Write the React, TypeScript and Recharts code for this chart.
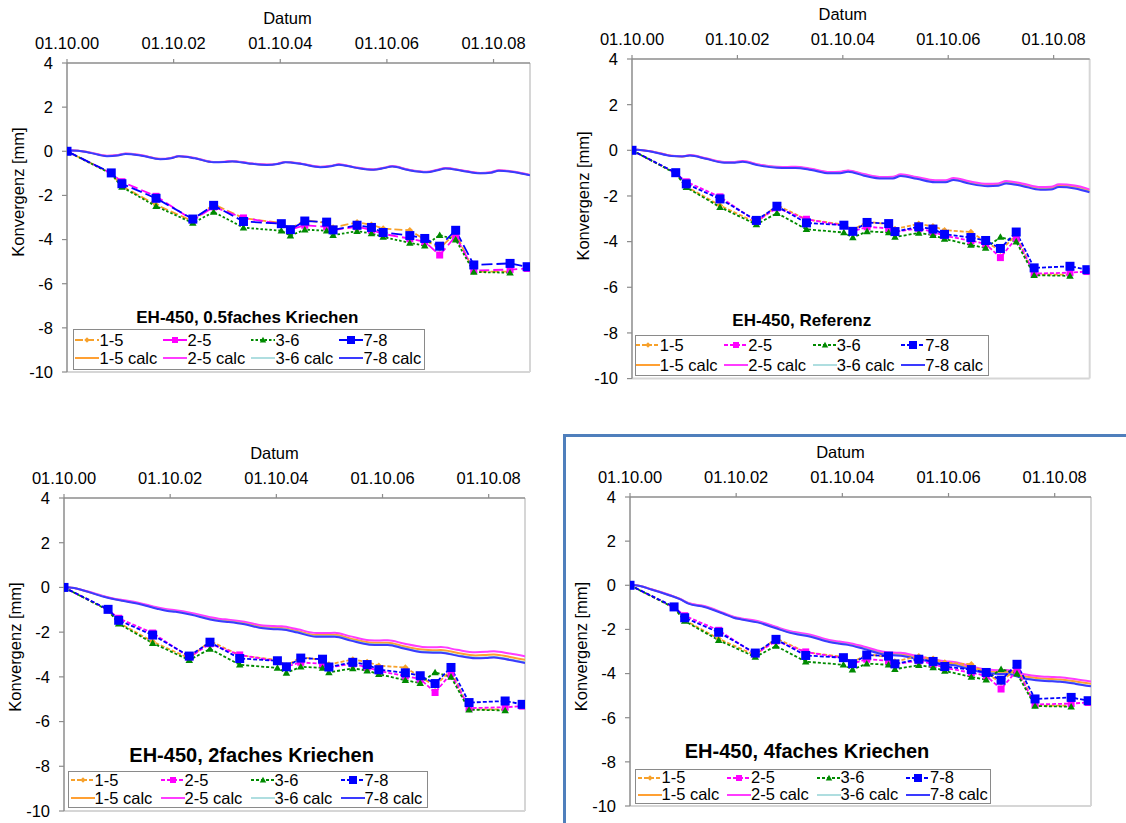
import React from 'react';
import { LineChart, Line, XAxis, YAxis, Legend, Label, ReferenceLine } from 'recharts';

const FONT = '"Liberation Sans", Arial, Helvetica, sans-serif';

// ---- axes ----
const X_TICKS = [0, 2, 4, 6, 8];
const X_TICK_LABELS = ['01.10.00', '01.10.02', '01.10.04', '01.10.06', '01.10.08'];
const Y_TICKS = [-10, -8, -6, -4, -2, 0, 2, 4];
const X_MAX = 8.684;

// ---- measured convergence (years since 01.10.2000) ----
const MEAS_T = [0, 0.83, 1.03, 1.67, 2.36, 2.75, 3.31, 4.02, 4.19, 4.46, 4.87, 4.99, 5.44, 5.71, 5.93, 6.43, 6.71, 6.99, 7.29, 7.63, 8.31, 8.63];
const M_15 = [0, -1.0, -1.58, -2.42, -3.17, -2.4, -3.03, -3.25, -3.5, -3.12, -3.25, -3.45, -3.22, -3.33, -3.5, -3.58, -4.0, -4.4, -3.7, -5.45, -5.45, null];
const M_25 = [0, -1.0, -1.38, -2.04, -3.12, -2.52, -3.02, -3.3, -3.55, -3.35, -3.42, -3.57, -3.42, -3.57, -3.74, -3.96, -4.1, -4.7, -3.85, -5.4, -5.36, -5.31];
const M_36 = [0, -1.02, -1.62, -2.49, -3.25, -2.75, -3.46, -3.6, -3.82, -3.55, -3.6, -3.8, -3.62, -3.72, -3.88, -4.15, -4.28, -3.8, -4.0, -5.47, -5.5, null];
const M_78 = [0, -0.98, -1.47, -2.13, -3.07, -2.45, -3.18, -3.28, -3.55, -3.16, -3.21, -3.56, -3.35, -3.45, -3.68, -3.82, -3.95, -4.3, -3.58, -5.15, -5.08, -5.23];

// ---- calculated curves ----
const CALC_T = [0, 0.1, 0.4, 0.75, 0.95, 1.1, 1.4, 1.75, 1.95, 2.1, 2.4, 2.75, 2.95, 3.1, 3.4, 3.75, 3.95, 4.1, 4.4, 4.75, 4.95, 5.1, 5.4, 5.75, 5.95, 6.1, 6.4, 6.75, 6.95, 7.1, 7.4, 7.75, 7.95, 8.1, 8.4, 8.684];

// 0.5faches Kriechen
const TL_15 = [0, 0.04, -0.04, -0.21, -0.18, -0.11, -0.19, -0.35, -0.31, -0.22, -0.31, -0.49, -0.48, -0.45, -0.54, -0.61, -0.57, -0.49, -0.57, -0.71, -0.67, -0.6, -0.73, -0.83, -0.75, -0.68, -0.84, -0.94, -0.85, -0.77, -0.87, -0.99, -0.96, -0.87, -0.94, -1.08];
const TL_25 = [0, 0.04, -0.04, -0.2, -0.17, -0.1, -0.18, -0.34, -0.3, -0.21, -0.3, -0.48, -0.47, -0.44, -0.53, -0.6, -0.56, -0.48, -0.56, -0.7, -0.66, -0.59, -0.72, -0.82, -0.74, -0.67, -0.83, -0.93, -0.84, -0.76, -0.86, -0.98, -0.95, -0.86, -0.93, -1.07];
const TL_36 = [0, 0.03, -0.05, -0.21, -0.18, -0.11, -0.19, -0.35, -0.31, -0.22, -0.31, -0.49, -0.48, -0.45, -0.54, -0.61, -0.57, -0.49, -0.57, -0.71, -0.67, -0.6, -0.73, -0.83, -0.75, -0.68, -0.84, -0.94, -0.85, -0.77, -0.87, -0.99, -0.96, -0.87, -0.94, -1.08];
const TL_78 = [0, 0.03, -0.05, -0.22, -0.19, -0.12, -0.2, -0.36, -0.32, -0.23, -0.32, -0.5, -0.49, -0.46, -0.55, -0.62, -0.58, -0.5, -0.58, -0.72, -0.68, -0.61, -0.74, -0.84, -0.76, -0.69, -0.85, -0.95, -0.86, -0.78, -0.88, -1.0, -0.97, -0.88, -0.95, -1.09];

// Referenz
const TR_15 = [0, 0.03, -0.06, -0.24, -0.27, -0.22, -0.36, -0.52, -0.52, -0.48, -0.63, -0.74, -0.75, -0.74, -0.83, -0.97, -0.96, -0.9, -1.07, -1.2, -1.19, -1.08, -1.2, -1.34, -1.35, -1.25, -1.4, -1.51, -1.49, -1.38, -1.49, -1.66, -1.65, -1.54, -1.59, -1.76];
const TR_25 = [0, 0.03, -0.06, -0.24, -0.26, -0.21, -0.35, -0.51, -0.51, -0.47, -0.62, -0.72, -0.73, -0.72, -0.81, -0.95, -0.94, -0.88, -1.04, -1.17, -1.16, -1.05, -1.17, -1.31, -1.31, -1.21, -1.36, -1.47, -1.45, -1.34, -1.45, -1.61, -1.6, -1.49, -1.54, -1.71];
const TR_36 = [0, 0.03, -0.07, -0.25, -0.27, -0.22, -0.37, -0.53, -0.53, -0.5, -0.65, -0.75, -0.77, -0.76, -0.85, -1.0, -0.99, -0.93, -1.09, -1.23, -1.22, -1.11, -1.23, -1.38, -1.38, -1.28, -1.44, -1.55, -1.53, -1.43, -1.54, -1.7, -1.7, -1.59, -1.64, -1.81];
const TR_78 = [0, 0.03, -0.07, -0.25, -0.27, -0.23, -0.37, -0.54, -0.54, -0.5, -0.66, -0.76, -0.77, -0.77, -0.86, -1.01, -1.0, -0.94, -1.11, -1.24, -1.23, -1.13, -1.25, -1.4, -1.4, -1.3, -1.46, -1.57, -1.55, -1.45, -1.56, -1.73, -1.72, -1.61, -1.67, -1.84];

// 2faches Kriechen
const BL_15 = [0, 0, -0.16, -0.4, -0.52, -0.58, -0.71, -0.92, -1.02, -1.06, -1.18, -1.38, -1.46, -1.5, -1.59, -1.77, -1.8, -1.81, -1.95, -2.13, -2.13, -2.12, -2.29, -2.46, -2.48, -2.47, -2.63, -2.78, -2.81, -2.8, -2.92, -3.04, -3.02, -3.0, -3.11, -3.24];
const BL_25 = [0, 0, -0.15, -0.39, -0.5, -0.56, -0.68, -0.89, -0.98, -1.02, -1.14, -1.33, -1.41, -1.44, -1.53, -1.7, -1.73, -1.74, -1.87, -2.04, -2.04, -2.03, -2.19, -2.36, -2.37, -2.36, -2.51, -2.66, -2.68, -2.67, -2.79, -2.9, -2.88, -2.85, -2.96, -3.08];
const BL_36 = [0, 0, -0.16, -0.41, -0.53, -0.59, -0.72, -0.93, -1.03, -1.07, -1.2, -1.4, -1.48, -1.52, -1.62, -1.8, -1.83, -1.84, -1.98, -2.17, -2.17, -2.17, -2.34, -2.52, -2.54, -2.53, -2.69, -2.86, -2.88, -2.88, -3.01, -3.13, -3.12, -3.09, -3.21, -3.34];
const BL_78 = [0, 0, -0.16, -0.42, -0.53, -0.6, -0.73, -0.95, -1.05, -1.09, -1.22, -1.43, -1.51, -1.55, -1.65, -1.83, -1.87, -1.88, -2.02, -2.21, -2.21, -2.21, -2.38, -2.56, -2.58, -2.57, -2.73, -2.9, -2.92, -2.92, -3.05, -3.17, -3.16, -3.13, -3.25, -3.38];

// 4faches Kriechen
const BR_15 = [0, 0, -0.18, -0.45, -0.63, -0.81, -0.96, -1.26, -1.44, -1.53, -1.65, -1.91, -2.08, -2.16, -2.28, -2.52, -2.6, -2.65, -2.82, -3.06, -3.11, -3.12, -3.26, -3.44, -3.51, -3.54, -3.73, -3.91, -3.93, -3.93, -4.11, -4.22, -4.25, -4.27, -4.36, -4.46];
const BR_25 = [0, 0, -0.18, -0.44, -0.62, -0.8, -0.94, -1.24, -1.42, -1.5, -1.62, -1.88, -2.04, -2.12, -2.24, -2.48, -2.55, -2.6, -2.77, -3.0, -3.05, -3.06, -3.2, -3.37, -3.44, -3.47, -3.65, -3.83, -3.85, -3.84, -4.02, -4.13, -4.15, -4.17, -4.26, -4.36];
const BR_36 = [0, 0, -0.19, -0.45, -0.63, -0.82, -0.97, -1.27, -1.45, -1.53, -1.66, -1.93, -2.09, -2.17, -2.3, -2.54, -2.62, -2.67, -2.85, -3.09, -3.14, -3.16, -3.31, -3.48, -3.56, -3.59, -3.78, -3.97, -3.99, -3.99, -4.18, -4.29, -4.32, -4.34, -4.44, -4.55];
const BR_78 = [0, 0, -0.19, -0.46, -0.64, -0.83, -0.98, -1.28, -1.47, -1.55, -1.68, -1.95, -2.11, -2.2, -2.33, -2.57, -2.65, -2.7, -2.88, -3.12, -3.17, -3.19, -3.34, -3.51, -3.59, -3.62, -3.81, -4.0, -4.02, -4.02, -4.21, -4.32, -4.35, -4.37, -4.47, -4.58];

const MEAS_NAMES = ['1-5', '2-5', '3-6', '7-8'];
const CALC_NAMES = ['1-5 calc', '2-5 calc', '3-6 calc', '7-8 calc'];
const TITLES = ['EH-450, 0.5faches Kriechen', 'EH-450, Referenz', 'EH-450, 2faches Kriechen', 'EH-450, 4faches Kriechen'];

const toRows = (ts: number[], vs: (number | null)[]) => ts.map((t, i) => ({ t, v: vs[i] }));

// ---- styles ----
const MEAS_STYLE = [
  { color: '#F7A12B', shape: 'diamond', size: 6.5, dashLong: '8 3', dashShort: '4 2' },
  { color: '#FF00FF', shape: 'square', size: 7, dashLong: '10 4', dashShort: '4 2' },
  { color: '#008A00', shape: 'triangle', size: 7.5, dashLong: '2.5 2', dashShort: '3 2' },
  { color: '#0000FF', shape: 'square', size: 9, dashLong: '11 4', dashShort: '4 2' },
];
const CALC_STYLE = [
  { color: '#FFA033', width: 2 },
  { color: '#FF3CFF', width: 2 },
  { color: '#79C8CC', width: 1.2 },
  { color: '#3A3AFF', width: 2 },
];

const PANELS = [
  {
    title: TITLES[0], calc: [TL_15, TL_25, TL_36, TL_78], long: true,
    left: 67, top: 62.7, w: 463, h: 309, datumDx: -11, yLabY: 129,
    legLeft: 73.3, titleCY: 318.5, titleSize: 17, titleLH: 20, titleDx: -2, boxTop: 329, boxH: 41, boxW: 352,
    colW: 88, colPad: 2.7, rowH: 18, legFont: 16.5,
  },
  {
    title: TITLES[1], calc: [TR_15, TR_25, TR_36, TR_78], long: false,
    left: 632.3, top: 58.7, w: 457.7, h: 319.6, datumDx: -18, yLabY: 137,
    legLeft: 634.8, titleCY: 321.4, titleSize: 17, titleLH: 20, titleDx: -10, boxTop: 334.7, boxH: 41, boxW: 354,
    colW: 88.5, colPad: 1.5, rowH: 20, legFont: 16.5,
  },
  {
    title: TITLES[2], calc: [BL_15, BL_25, BL_36, BL_78], long: false,
    left: 64, top: 498, w: 461, h: 313, datumDx: -20, yLabY: 149,
    legLeft: 67.6, titleCY: 754.5, titleSize: 20, titleLH: 24, titleDx: 4, boxTop: 770.6, boxH: 37, boxW: 360,
    colW: 90, colPad: 3.5, rowH: 18, legFont: 16.5,
  },
  {
    title: TITLES[3], calc: [BR_15, BR_25, BR_36, BR_78], long: false,
    left: 630, top: 497.3, w: 461, h: 309, datumDx: -20, yLabY: 149.5,
    legLeft: 635, titleCY: 751.4, titleSize: 20, titleLH: 24, titleDx: -6, boxTop: 768.7, boxH: 35.5, boxW: 356,
    colW: 89.5, colPad: 3, rowH: 17.6, legFont: 16.5,
  },
];

function markerEl(shape: string, color: string, size: number, cx: number, cy: number, key?: string) {
  const s = size / 2;
  if (shape === 'square') return <rect key={key} x={cx - s} y={cy - s} width={size} height={size} fill={color} />;
  if (shape === 'diamond')
    return <path key={key} d={`M${cx},${cy - s}L${cx + s},${cy}L${cx},${cy + s}L${cx - s},${cy}Z`} fill={color} />;
  return <path key={key} d={`M${cx},${cy - s}L${cx + s},${cy + s * 0.75}L${cx - s},${cy + s * 0.75}Z`} fill={color} />;
}

const dotFn = (m: { shape: string; color: string; size: number }) => (props: any) => {
  const { cx, cy, index, payload } = props;
  if (cx == null || cy == null || !payload || payload.v == null || Number.isNaN(cy)) return <g key={`e${index}`} />;
  return markerEl(m.shape, m.color, m.size, cx, cy, `m${index}`);
};

function LegendIcon({ color, dash, width, marker }: any) {
  return (
    <svg width={24} height={12} style={{ display: 'block', flex: '0 0 24px' }}>
      <line x1={0} y1={6} x2={24} y2={6} stroke={color} strokeWidth={width} strokeDasharray={dash} />
      {marker ? markerEl(marker.shape, marker.color, marker.size - 1, 12, 6) : null}
    </svg>
  );
}

function Panel({ p }: { p: any }) {
  const cl = p.left - 60;
  const ct = p.top - 60;
  const W = p.w + 68;
  const H = p.h + 68;
  const legTop = p.titleCY - p.titleLH / 2 - ct;
  const boxMt = p.boxTop - (p.titleCY + p.titleLH / 2);

  const legendContent = () => (
    <div style={{ fontFamily: FONT, color: '#000', width: p.boxW }}>
      <div
        style={{
          textAlign: 'center', fontWeight: 'bold', fontSize: p.titleSize, lineHeight: `${p.titleLH}px`,
          height: p.titleLH, whiteSpace: 'nowrap', position: 'relative', left: p.titleDx,
        }}
      >
        {p.title}
      </div>
      <div
        style={{
          marginTop: boxMt, width: p.boxW, height: p.boxH, boxSizing: 'border-box', border: '1.5px solid #8a8a8a',
          background: '#fff', display: 'flex', flexDirection: 'column', justifyContent: 'center',
        }}
      >
        {[0, 1].map((row) => (
          <div key={row} style={{ display: 'flex', height: p.rowH, alignItems: 'center', paddingLeft: p.colPad - 1.5 }}>
            {[0, 1, 2, 3].map((i) => {
              const ms = MEAS_STYLE[i];
              const cs = CALC_STYLE[i];
              return (
                <div key={i} style={{ width: p.colW, display: 'flex', alignItems: 'center', flex: `0 0 ${p.colW}px` }}>
                  {row === 0 ? (
                    <LegendIcon color={ms.color} dash={p.long ? ms.dashLong : ms.dashShort} width={1.8} marker={ms} />
                  ) : (
                    <LegendIcon color={cs.color} width={cs.width} />
                  )}
                  <span style={{ fontSize: p.legFont, lineHeight: `${p.rowH}px`, whiteSpace: 'nowrap' }}>
                    {row === 0 ? MEAS_NAMES[i] : CALC_NAMES[i]}
                  </span>
                </div>
              );
            })}
          </div>
        ))}
      </div>
    </div>
  );

  const yl = { x: 60 - 49, y: 60 + p.yLabY };

  return (
    <div style={{ position: 'absolute', left: cl, top: ct, width: W, height: H }}>
      <LineChart width={W} height={H} margin={{ top: 0, right: 8, bottom: 8, left: 0 }}>
        <XAxis
          type="number"
          dataKey="t"
          orientation="top"
          domain={[0, X_MAX]}
          ticks={X_TICKS}
          interval={0}
          allowDataOverflow
          height={60}
          tickSize={4}
          tickMargin={10}
          tickFormatter={(v: number) => X_TICK_LABELS[X_TICKS.indexOf(v)] ?? ''}
          tick={{ fill: '#000', fontSize: 16.5, fontFamily: FONT }}
          axisLine={{ stroke: '#8c8c8c', strokeWidth: 1.5 }}
          tickLine={{ stroke: '#8c8c8c', strokeWidth: 1.2 }}
        >
          <Label
            value="Datum"
            content={() => (
              <text x={60 + p.w / 2 + p.datumDx} y={21} textAnchor="middle" fontSize={16.5} fontFamily={FONT} fill="#000">
                Datum
              </text>
            )}
          />
        </XAxis>
        <YAxis
          type="number"
          domain={[-10, 4]}
          ticks={Y_TICKS}
          interval={0}
          allowDataOverflow
          width={60}
          tickSize={5}
          tickMargin={9}
          tick={{ fill: '#000', fontSize: 16.5, fontFamily: FONT }}
          axisLine={{ stroke: '#8c8c8c', strokeWidth: 1.5 }}
          tickLine={{ stroke: '#8c8c8c', strokeWidth: 1.2 }}
        >
          <Label
            value="Konvergenz [mm]"
            content={() => (
              <text
                x={yl.x}
                y={yl.y}
                transform={`rotate(-90 ${yl.x} ${yl.y})`}
                textAnchor="middle"
                dominantBaseline="central"
                fontSize={16.5}
                fontFamily={FONT}
                fill="#000"
              >
                Konvergenz [mm]
              </text>
            )}
          />
        </YAxis>
        <ReferenceLine x={X_MAX} stroke="#d6d6d6" strokeWidth={2} />
        <ReferenceLine y={-10} stroke="#d6d6d6" strokeWidth={2} />
        {p.calc.map((arr: number[], i: number) => (
          <Line
            key={`c${i}`}
            data={toRows(CALC_T, arr)}
            dataKey="v"
            name={CALC_NAMES[i]}
            type="monotone"
            stroke={CALC_STYLE[i].color}
            strokeWidth={CALC_STYLE[i].width}
            dot={false}
            activeDot={false}
            isAnimationActive={false}
          />
        ))}
        {[M_15, M_25, M_36, M_78].map((arr, i) => (
          <Line
            key={`m${i}`}
            data={toRows(MEAS_T, arr)}
            dataKey="v"
            name={MEAS_NAMES[i]}
            type="linear"
            stroke={MEAS_STYLE[i].color}
            strokeWidth={1.8}
            strokeDasharray={p.long ? MEAS_STYLE[i].dashLong : MEAS_STYLE[i].dashShort}
            dot={dotFn(MEAS_STYLE[i])}
            activeDot={false}
            connectNulls={false}
            isAnimationActive={false}
          />
        ))}
        <Legend
          layout="horizontal"
          verticalAlign="middle"
          align="center"
          width={p.boxW + 4}
          content={legendContent}
          wrapperStyle={{ left: p.legLeft - cl, top: legTop, width: p.boxW + 4, height: 'auto', margin: 0, padding: 0 }}
        />
      </LineChart>
    </div>
  );
}

export default function App() {
  return (
    <div
      style={{
        position: 'absolute', left: 0, top: 0, width: 1126, height: 823, overflow: 'hidden',
        background: '#fff', fontFamily: FONT,
      }}
    >
      {PANELS.map((p, i) => (
        <Panel key={i} p={p} />
      ))}
      <div
        style={{
          position: 'absolute', left: 563, top: 433.5, width: 620, height: 450,
          border: '3px solid #4F7FBC', boxSizing: 'border-box', pointerEvents: 'none',
        }}
      />
    </div>
  );
}
